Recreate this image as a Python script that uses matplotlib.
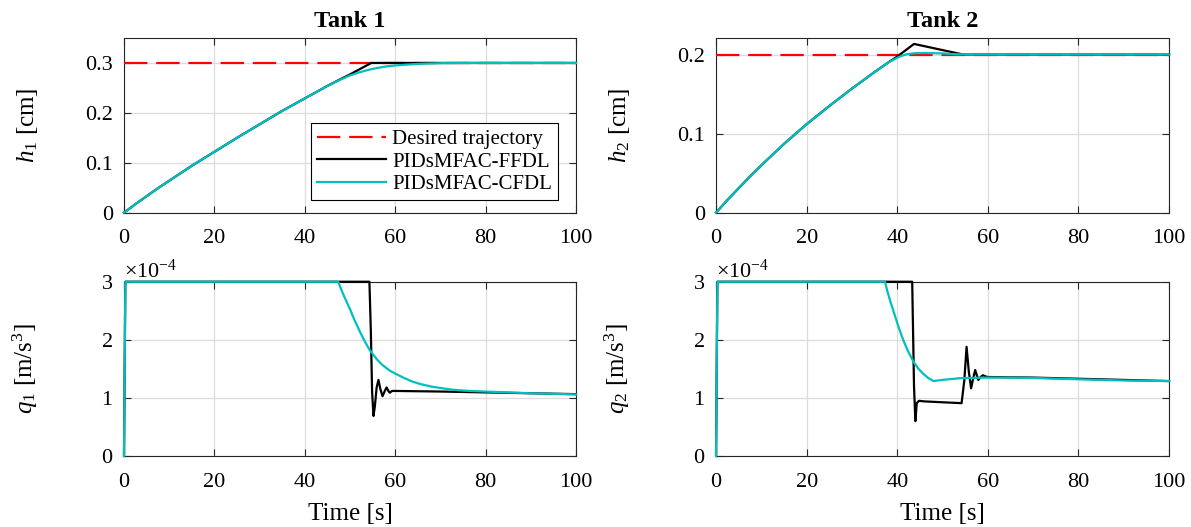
import matplotlib
matplotlib.use("Agg")
import matplotlib.pyplot as plt
from matplotlib.ticker import ScalarFormatter

plt.rcParams['font.family'] = ['Liberation Serif', 'DejaVu Serif']
plt.rcParams['mathtext.fontset'] = 'custom'
plt.rcParams['mathtext.rm'] = 'Liberation Serif'
plt.rcParams['mathtext.it'] = 'Liberation Serif:italic'
plt.rcParams['mathtext.bf'] = 'Liberation Serif:bold'
plt.rcParams['axes.unicode_minus'] = False
plt.rcParams['font.size'] = 16

# ---- data ----
h1_ref = 0.3
h2_ref = 0.2

# Tank 1 level
t_h1_ffdl = [0, 2.5, 5, 7.5, 10, 15, 20, 25, 30, 35, 40, 45, 48, 50, 54.7, 60, 100]
h1_ffdl = [0, 0.017, 0.033, 0.049, 0.064, 0.094, 0.122, 0.150, 0.177, 0.204, 0.229,
           0.254, 0.268, 0.277, 0.300, 0.300, 0.300]
t_h1_cfdl = [0, 2.5, 5, 7.5, 10, 15, 20, 25, 30, 35, 40, 45, 48, 50, 52, 54, 56, 58,
             60, 63, 66, 70, 75, 100]
h1_cfdl = [0, 0.017, 0.033, 0.049, 0.064, 0.094, 0.122, 0.150, 0.177, 0.204, 0.229,
           0.254, 0.267, 0.275, 0.281, 0.286, 0.290, 0.293, 0.295, 0.297, 0.2985,
           0.2995, 0.300, 0.300]

# Tank 2 level
t_h2_ffdl = [0, 2.5, 5, 7.5, 10, 15, 20, 25, 30, 35, 38, 40, 43.7, 54.6, 100]
h2_ffdl = [0, 0.016, 0.031, 0.046, 0.060, 0.087, 0.112, 0.135, 0.157, 0.178, 0.190,
           0.1975, 0.2135, 0.200, 0.200]
t_h2_cfdl = [0, 2.5, 5, 7.5, 10, 15, 20, 25, 30, 35, 38, 40, 41, 42, 43, 44, 46, 50,
             53, 56, 100]
h2_cfdl = [0, 0.016, 0.031, 0.046, 0.060, 0.087, 0.112, 0.135, 0.157, 0.178, 0.190,
           0.196, 0.1985, 0.2003, 0.2012, 0.2018, 0.2020, 0.2015, 0.2005, 0.200, 0.200]

# Tank 1 inflow (x 1e-4)
t_q1_ffdl = [0, 0.3, 54.3, 54.6, 54.9, 55.2, 55.5, 55.9, 56.3, 56.7, 57.2, 57.7, 58.1,
             58.5, 58.8, 59.3, 60, 70, 80, 90, 100]
q1_ffdl = [0, 3, 3, 2.2, 1.1, 0.69, 0.85, 1.18, 1.31, 1.16, 1.03, 1.12, 1.18, 1.12,
           1.09, 1.12, 1.12, 1.11, 1.095, 1.08, 1.065]
t_q1_cfdl = [0, 0.3, 47.4, 48.0, 48.7, 49.4, 50, 51, 52.2, 53.3, 54.4, 55.2, 56, 57,
             58.1, 59, 60, 61.8, 63.5, 65.5, 68, 70.5, 72.9, 75.5, 78, 83.2, 90, 95, 100]
q1_cfdl = [0, 3, 3, 2.88, 2.75, 2.63, 2.53, 2.34, 2.14, 1.97, 1.82, 1.74, 1.66, 1.58,
           1.51, 1.46, 1.42, 1.35, 1.29, 1.24, 1.195, 1.165, 1.14, 1.125, 1.115, 1.10,
           1.08, 1.07, 1.06]

# Tank 2 inflow (x 1e-4)
t_q2_ffdl = [0, 0.3, 43.3, 43.7, 44.0, 44.3, 44.8, 46, 50, 54.2, 54.8, 55.3, 55.8,
             56.3, 56.8, 57.2, 57.6, 57.9, 58.4, 58.9, 59.5, 60, 70, 80, 90, 100]
q2_ffdl = [0, 3, 3, 1.2, 0.6, 0.91, 0.95, 0.94, 0.925, 0.91, 1.3, 1.88, 1.45, 1.165,
           1.35, 1.48, 1.38, 1.31, 1.36, 1.39, 1.37, 1.36, 1.35, 1.33, 1.31, 1.29]
t_q2_cfdl = [0, 0.3, 37.3, 37.8, 38.4, 39.1, 40.2, 41.3, 42.4, 43.6, 44.7, 45.8, 46.9,
             48.0, 50, 53.9, 59.7, 65, 71.5, 80, 90, 100]
q2_cfdl = [0, 3, 3, 2.84, 2.68, 2.51, 2.24, 2.0, 1.80, 1.62, 1.50, 1.41, 1.34,
           1.29, 1.31, 1.34, 1.35, 1.35, 1.34, 1.32, 1.30, 1.29]

times = [0, 100]
xticks = [0, 20, 40, 60, 80, 100]

red = '#ff0000'
cyan = '#00bfbf'
lw = 1.6

fig = plt.figure(figsize=(11.91, 5.27), dpi=100)
ax1 = fig.add_axes([0.1041, 0.5964, 0.3795, 0.3315])
ax2 = fig.add_axes([0.6012, 0.5964, 0.3804, 0.3315])
ax3 = fig.add_axes([0.1041, 0.1347, 0.3795, 0.3307])
ax4 = fig.add_axes([0.6012, 0.1347, 0.3804, 0.3307])


def style(ax):
    ax.set_xlim(0, 100)
    ax.set_xticks(xticks)
    ax.grid(True, color='#dcdcdc', linewidth=0.9)
    ax.set_axisbelow(True)
    ax.tick_params(direction='in', top=True, right=True, length=5, width=0.8,
                   color='#262626', labelsize=16)
    ax.tick_params(axis='y', pad=8)
    ax.tick_params(axis='x', pad=12)
    for s in ax.spines.values():
        s.set_color('#262626')
        s.set_linewidth(0.8)


line_kw = dict(lw=lw, clip_on=False, zorder=3)

# Tank 1 level
ax1.plot(times, [h1_ref, h1_ref], color=red, dashes=(10.5, 4),
         label='Desired trajectory', **line_kw)
ax1.plot(t_h1_ffdl, h1_ffdl, color='black', label='PIDsMFAC-FFDL', **line_kw)
ax1.plot(t_h1_cfdl, h1_cfdl, color=cyan, label='PIDsMFAC-CFDL', **line_kw)
ax1.set_ylim(0, 0.35)
ax1.set_yticks([0, 0.1, 0.2, 0.3])
ax1.set_yticklabels(['0', '0.1', '0.2', '0.3'])
ax1.set_title('Tank 1', fontweight='bold', fontsize=17.5, pad=8)
ax1.set_ylabel(r'$h_{\mathit{1}}$ [cm]', fontsize=18)
leg = ax1.legend(loc='lower right', bbox_to_anchor=(0.961, 0.07), fontsize=15,
                 fancybox=False, framealpha=1, edgecolor='black', borderpad=0.3,
                 handlelength=3.3, handletextpad=0.3, labelspacing=0.15,
                 borderaxespad=0)
leg.get_frame().set_linewidth(0.8)

# Tank 2 level
ax2.plot(times, [h2_ref, h2_ref], color=red, dashes=(10.5, 4), **line_kw)
ax2.plot(t_h2_ffdl, h2_ffdl, color='black', **line_kw)
ax2.plot(t_h2_cfdl, h2_cfdl, color=cyan, **line_kw)
ax2.set_ylim(0, 0.221)
ax2.set_yticks([0, 0.1, 0.2])
ax2.set_yticklabels(['0', '0.1', '0.2'])
ax2.set_title('Tank 2', fontweight='bold', fontsize=17.5, pad=8)
ax2.set_ylabel(r'$h_{\mathit{2}}$ [cm]', fontsize=18)

# inflows
for ax, tf, qf, tc, qc, lab in [
        (ax3, t_q1_ffdl, q1_ffdl, t_q1_cfdl, q1_cfdl, r'$q_{\mathit{1}}$ [m/s$^3$]'),
        (ax4, t_q2_ffdl, q2_ffdl, t_q2_cfdl, q2_cfdl, r'$q_{\mathit{2}}$ [m/s$^3$]')]:
    ax.plot(tf, [v * 1e-4 for v in qf], color='black', **line_kw)
    ax.plot(tc, [v * 1e-4 for v in qc], color=cyan, **line_kw)
    ax.set_ylim(0, 3e-4)
    ax.set_yticks([0, 1e-4, 2e-4, 3e-4])
    fmt = ScalarFormatter(useMathText=True)
    fmt.set_powerlimits((-3, 3))
    ax.yaxis.set_major_formatter(fmt)
    ax.yaxis.get_offset_text().set_fontsize(16)
    ax.set_xlabel('Time [s]', fontsize=18, labelpad=8)
    ax.set_ylabel(lab, fontsize=18)

for ax in (ax1, ax2, ax3, ax4):
    style(ax)
    ax.yaxis.set_label_coords(-0.186, 0.5)

fig.savefig('out.png', dpi=100)
